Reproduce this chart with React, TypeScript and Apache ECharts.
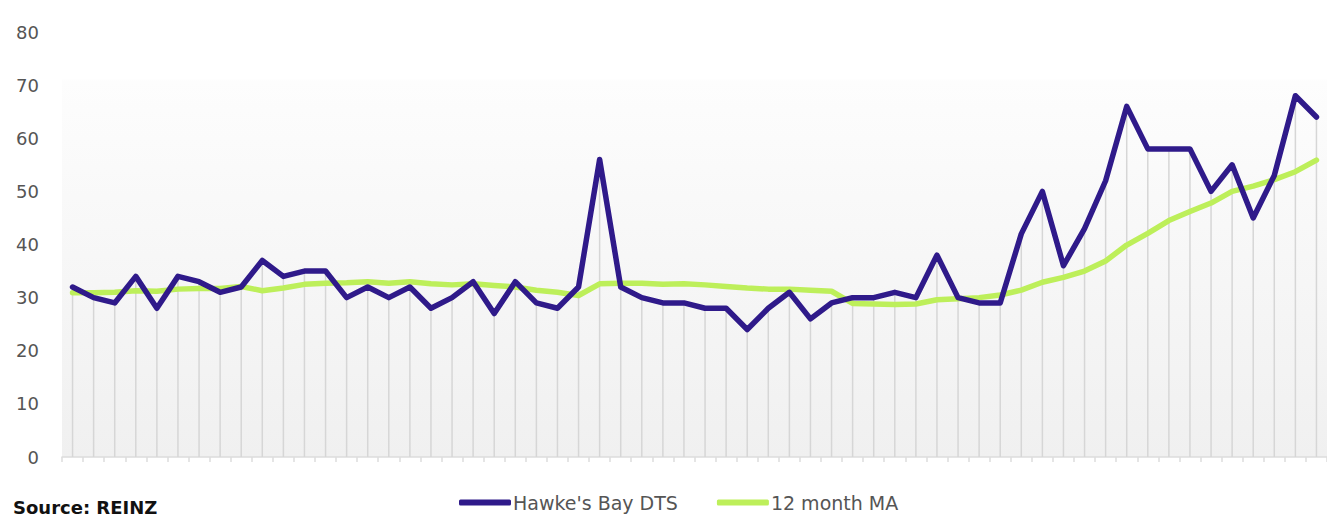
import React, { useEffect, useRef } from "react";
import * as echarts from "echarts";

const months: string[] = Array.from({ length: 60 }, (_, i) => `M${i + 1}`);

const dts: number[] = [
  32, 30, 29, 34, 28, 34, 33, 31, 32, 37,
  34, 35, 35, 30, 32, 30, 32, 28, 30, 33,
  27, 33, 29, 28, 32, 56, 32, 30, 29, 29,
  28, 28, 24, 28, 31, 26, 29, 30, 30, 31,
  30, 38, 30, 29, 29, 42, 50, 36, 43, 52,
  66, 58, 58, 58, 50, 55, 45, 53, 68, 64,
];

const ma12: number[] = [
  30.9, 30.9, 31.0, 31.3, 31.2, 31.6, 31.7, 31.7, 32.1, 31.3,
  31.8, 32.5, 32.7, 32.8, 33.0, 32.7, 33.0, 32.6, 32.4, 32.6,
  32.3, 32.0, 31.4, 31.0, 30.4, 32.6, 32.7, 32.7, 32.5, 32.6,
  32.4, 32.1, 31.8, 31.6, 31.6, 31.4, 31.2, 28.9, 28.8, 28.7,
  28.8, 29.6, 29.8, 30.0, 30.5, 31.4, 32.9, 33.8, 35.0, 36.9,
  39.9, 42.1, 44.5, 46.2, 47.8, 50.0, 51.0, 52.2, 53.7, 55.9,
];

const yTicks = { min: 0, max: 80, interval: 10 };
const seriesNames = ["Hawke's Bay DTS", "12 month MA"];
const sourceText = "Source: REINZ";

export default function App() {
  const ref = useRef<HTMLDivElement>(null);
  useEffect(() => {
    if (!ref.current) return;
    const chart = echarts.init(ref.current, undefined, { renderer: "svg" });
    chart.setOption({
      animation: false,
      backgroundColor: "#ffffff",
      title: {
        text: sourceText,
        left: 13,
        bottom: 1,
        padding: 0,
        textStyle: { fontFamily: "DejaVu Sans", fontWeight: "bold", fontSize: 18, color: "#111" },
      },
      legend: {
        data: seriesNames,
        bottom: 5,
        left: 459,
        padding: 0,
        icon: "roundRect",
        itemWidth: 52,
        itemHeight: 6,
        itemGap: 39,
        textStyle: { fontFamily: "DejaVu Sans", fontSize: 19, color: "#555", padding: [0, 0, 0, -3] },
      },
      grid: {
        left: 62,
        right: 0,
        top: 32,
        bottom: 60,
        show: true,
        borderWidth: 0,
        backgroundColor: new echarts.graphic.LinearGradient(0, 0, 0, 1, [
          { offset: 0, color: "#ffffff" },
          { offset: 0.11, color: "#ffffff" },
          { offset: 0.115, color: "#fdfdfd" },
          { offset: 1, color: "#f0f0f0" },
        ]),
      },
      xAxis: {
        type: "category",
        data: months,
        boundaryGap: true,
        axisLine: { lineStyle: { color: "#dcdcdc", width: 1.5 } },
        axisTick: { show: true, interval: 0, length: 5, lineStyle: { color: "#dcdcdc", width: 1.5 } },
        axisLabel: { show: false },
        splitLine: { show: false },
      },
      yAxis: {
        type: "value",
        min: yTicks.min,
        max: yTicks.max,
        interval: yTicks.interval,
        axisLine: { show: false },
        axisTick: { show: false },
        splitLine: { show: false },
        axisLabel: { color: "#555", fontFamily: "DejaVu Sans", fontSize: 18, margin: 23 },
      },
      series: [
        {
          name: "drop",
          type: "bar",
          data: dts,
          barWidth: 1.5,
          silent: true,
          itemStyle: { color: "#d6d6d6" },
          z: 1,
        },
        {
          name: seriesNames[0],
          type: "line",
          data: dts,
          symbol: "none",
          lineStyle: { color: "#2f1a8a", width: 5.5, cap: "round", join: "round" },
          itemStyle: { color: "#2f1a8a" },
          z: 3,
        },
        {
          name: seriesNames[1],
          type: "line",
          data: ma12,
          symbol: "none",
          lineStyle: { color: "#bdef5a", width: 5.5, cap: "round", join: "round" },
          itemStyle: { color: "#bdef5a" },
          z: 2,
        },
      ],
    });
    return () => chart.dispose();
  }, []);
  return (
    <div
      ref={ref}
      style={{ position: "fixed", left: 0, top: 0, width: 1327, height: 517 }}
    />
  );
}
